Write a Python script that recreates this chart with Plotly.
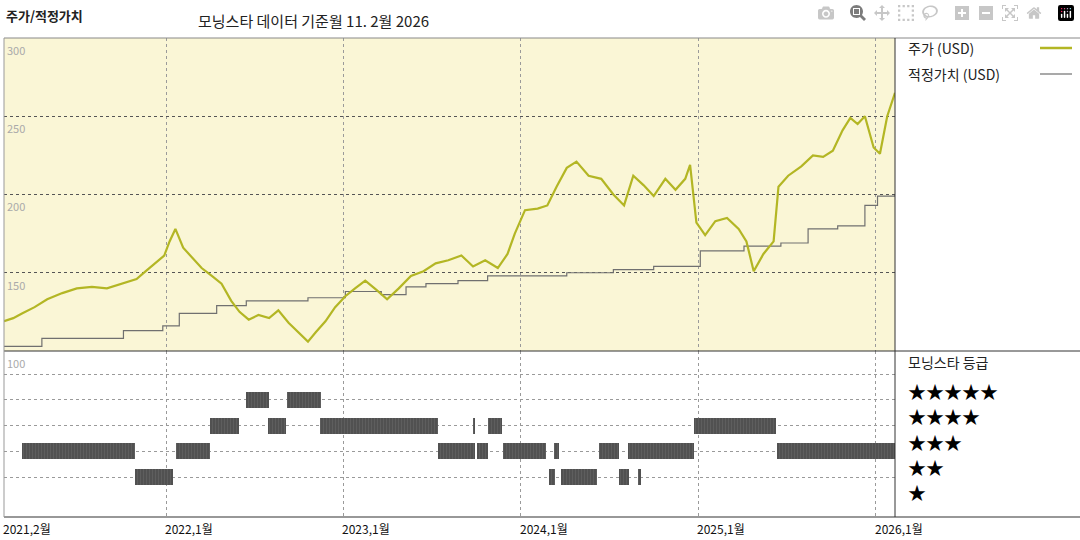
import plotly.graph_objects as go
from plotly.subplots import make_subplots
import pandas as pd

price_dates = ["2021-02-01","2021-02-20","2021-03-10","2021-04-05","2021-05-01","2021-06-01","2021-07-01","2021-08-01",
 "2021-09-01","2021-10-01","2021-11-01","2021-11-20","2021-12-10","2021-12-28","2022-01-08","2022-01-20","2022-02-05",
 "2022-02-25","2022-03-15","2022-04-05","2022-04-25","2022-05-15","2022-06-01","2022-06-20","2022-07-10","2022-08-01",
 "2022-08-20","2022-09-10","2022-10-01","2022-10-20","2022-11-05","2022-11-25","2022-12-15","2023-01-05","2023-01-25",
 "2023-02-15","2023-03-10","2023-04-01","2023-04-25","2023-05-20","2023-06-15","2023-07-10","2023-08-05","2023-09-01",
 "2023-09-25","2023-10-20","2023-11-15","2023-12-05","2023-12-20","2024-01-10","2024-02-05","2024-02-25","2024-03-15",
 "2024-04-05","2024-04-25","2024-05-20","2024-06-15","2024-07-10","2024-08-01","2024-08-20","2024-09-10","2024-10-01",
 "2024-10-25","2024-11-15","2024-12-05","2024-12-15","2024-12-28","2025-01-15","2025-02-05","2025-03-01","2025-03-25",
 "2025-04-10","2025-04-25","2025-05-15","2025-06-05","2025-06-15","2025-07-05","2025-08-01","2025-08-25","2025-09-15",
 "2025-10-05","2025-10-25","2025-11-10","2025-11-25","2025-12-10","2025-12-28","2026-01-10","2026-01-25","2026-02-10"]
price_values = [119,121,124,128,133,137,140,141,140,143,146,151,156,161,170,178,166,159,153,148,143,132,125,120,123,121,
 126,118,112,106,112,119,128,135,140,145,139,133,140,148,151,156,158,161,154,158,153,162,175,190,191,193,205,217,221,212,
 210,200,193,212,206,199,210,203,210,219,182,174,183,185,178,170,151,162,170,205,212,218,225,224,228,241,249,245,250,230,
 226,250,265]

fv_dates = ["2021-02-01","2021-04-20","2021-10-05","2021-12-25","2022-01-28","2022-04-15","2022-06-15","2022-10-20",
 "2023-01-05","2023-03-20","2023-05-10","2023-06-20","2023-08-25","2023-10-25","2023-12-20","2024-04-05","2024-07-10",
 "2024-10-01","2025-01-05","2025-04-05","2025-06-20","2025-08-15","2025-10-15","2025-12-10","2026-01-05","2026-02-10"]
fv_values = [103,108,113,116,124,129,132,134,138,136,141,143,145,148,148,150,152,154,164,167,169,178,180,193,199,200]

rating_stars = [2,2,2,2,2,2,2,2,2, 1,1,1,1,1, 3,3,3,3,3,3, 4,4]
rating_start = ["2021-03-10","2022-01-21","2023-07-15","2023-10-04","2023-11-25","2024-03-09","2024-06-11","2024-08-10","2025-06-11",
 "2021-10-28","2024-02-29","2024-03-25","2024-07-22","2024-08-29",
 "2022-04-01","2022-07-29","2022-11-13","2023-09-26","2023-10-25","2024-12-24",
 "2022-06-14","2022-09-07"]
rating_end = ["2021-10-28","2022-04-01","2023-09-28","2023-10-25","2024-02-23","2024-03-21","2024-07-22","2024-12-24","2026-02-10",
 "2022-01-16","2024-03-11","2024-06-06","2024-08-12","2024-09-04",
 "2022-05-30","2022-09-05","2023-07-15","2023-09-30","2023-11-23","2025-06-09",
 "2022-08-01","2022-11-15"]

FONT = "Noto Sans CJK KR"
fig = make_subplots(rows=2, cols=1, shared_xaxes=True, vertical_spacing=0, row_heights=[0.6534, 0.3466])
fig.add_trace(go.Scatter(x=fv_dates, y=fv_values, mode="lines", line=dict(color="#707070", width=1.2, shape="hv")), 1, 1)
fig.add_trace(go.Scatter(x=price_dates, y=price_values, mode="lines", line=dict(color="#b3b624", width=2.2)), 1, 1)

s = pd.to_datetime(rating_start); e = pd.to_datetime(rating_end)
dur = [(b - a).total_seconds() * 1000 for a, b in zip(s, e)]
fig.add_trace(go.Bar(y=rating_stars, x=dur, base=list(s.strftime("%Y-%m-%d")), orientation="h", width=0.62,
                     marker=dict(color="#3c3c3c", line=dict(width=0),
                                 pattern=dict(shape="|", size=3, solidity=0.8, fgcolor="#8a8a8a", bgcolor="#333333"))), 2, 1)

xr = ["2021-02-01", "2026-02-10"]
grid = dict(showgrid=True, gridcolor="#9a9a9a", griddash="dot", gridwidth=1)
fig.update_xaxes(range=xr, type="date", tickvals=["2022-01-01","2023-01-01","2024-01-01","2025-01-01","2026-01-01"],
                 showticklabels=False, zeroline=False, **grid)
fig.update_yaxes(range=[100, 300], tickvals=[150, 200, 250], showticklabels=False, zeroline=False,
                 gridcolor="#555555", griddash="dot", showgrid=True, row=1, col=1)
fig.update_yaxes(range=[-0.55, 5.9], tickvals=[1, 2, 3, 4, 5], showticklabels=False, zeroline=False, **grid, row=2, col=1)

ann = []
for v in [300, 250, 200, 150, 100]:
    ann.append(dict(x=0.001, xref="paper", y=v, yref="y", text=str(v), showarrow=False, xanchor="left", yanchor="top",
                    yshift=-2, font=dict(size=11, color="#aaaaaa", family=FONT)))
for d, t in [("2021-02-01","2021,2월"),("2022-01-01","2022,1월"),("2023-01-01","2023,1월"),("2024-01-01","2024,1월"),
             ("2025-01-01","2025,1월"),("2026-01-01","2026,1월")]:
    ann.append(dict(x=d, xref="x", y=0, yref="paper", text=t, showarrow=False, xanchor="left", yanchor="top",
                    yshift=-1, xshift=-3, font=dict(size=12, color="#111", family=FONT)))

W, H, L, R, T, B = 1080, 540, 4, 185, 38, 23
pw, ph = W - L - R, H - T - B
def px(x, y, text, size, color="#222"):
    return dict(x=(x - L) / pw, y=(H - B - y) / ph, xref="paper", yref="paper", text=text, showarrow=False,
                xanchor="left", yanchor="middle", font=dict(size=size, color=color, family=FONT))
ann += [px(4, 16, "<b>주가/적정가치</b>", 13), px(196, 20, "모닝스타 데이터 기준월 11. 2월 2026", 15),
        px(906, 48, "주가 (USD)", 14), px(906, 74, "적정가치 (USD)", 14), px(906, 362, "모닝스타 등급", 14)]
for i, n in enumerate([5, 4, 3, 2, 1]):
    ann.append(px(906, 391 + i * 25.3, "★" * n, 18, "#000"))

def ln(x0, y0, x1, y1, color="#333", w=1):
    return dict(type="line", xref="paper", yref="paper", x0=(x0 - L) / pw, x1=(x1 - L) / pw,
                y0=(H - B - y0) / ph, y1=(H - B - y1) / ph, line=dict(color=color, width=w))
shapes = [
    dict(type="rect", xref="x", yref="y", x0=xr[0], x1=xr[1], y0=100, y1=300, fillcolor="#faf6d6",
         line=dict(width=0), layer="below"),
    ln(4, 38, 1080, 38, "#888", 1), ln(4, 351, 1080, 351, "#333", 1), ln(4, 517, 1080, 517, "#333", 1.2),
    ln(895, 38, 895, 517, "#333", 1), ln(4, 38, 4, 517, "#999", 1),
    ln(1040, 48, 1072, 48, "#b3b624", 2.5), ln(1040, 74, 1072, 74, "#707070", 1.2),
]
fig.update_layout(width=W, height=H, margin=dict(l=L, r=R, t=T, b=B), showlegend=False, plot_bgcolor="white",
                  paper_bgcolor="white", annotations=ann, shapes=shapes, bargap=0, font=dict(family=FONT))
fig.write_html("out.html")
with open("out.html", encoding="utf-8") as f:
    html = f.read()
html = html.replace("<head>", "<head><style>html,body{margin:0;padding:0;overflow:hidden;}</style>", 1)
with open("out.html", "w", encoding="utf-8") as f:
    f.write(html)
